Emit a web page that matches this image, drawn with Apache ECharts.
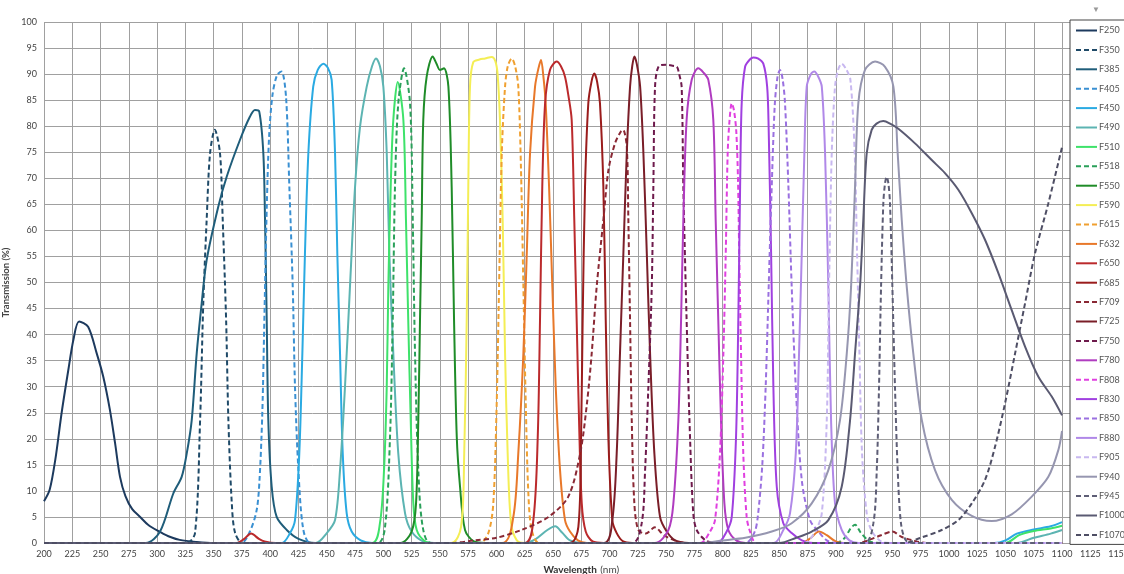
<!DOCTYPE html>
<html><head><meta charset="utf-8">
<script src="https://cdn.jsdelivr.net/npm/echarts@6/dist/echarts.min.js"></script>
<style>html,body{margin:0;padding:0;background:#fff}#c{width:1124px;height:574px}</style>
</head><body><div id="c"></div><script>
// ---- data: [wavelength nm, transmission %] ----
const F250 = [[200,8],[205,10.2],[210,16],[215.6,25],[221.5,33.2],[226,39],[231,42.5],[239,41.5],[246.6,36.4],[252.4,31.9],[258.3,25.5],[262.8,19.2],[267.2,12.7],[272,9],[278,6.5],[285,5],[292,3.5],[300,2.4],[310,1.3],[320,0.6],[335,0.2],[350,0],[1100,0]];
const F350 = [[200,0],[326,0],[333.5,1.9],[338,23.6],[340.8,46],[343.8,62],[346.8,74.8],[351,79.3],[355.6,74.8],[358,62],[361,42.8],[363,23.6],[366,7.7],[369,1.9],[376,0],[1100,0]];
const F385 = [[200,0],[290,0],[302.6,2.2],[314.3,9.5],[321.7,12.7],[326.2,17.2],[330.6,23.6],[335,36.4],[339.4,46],[343.8,54.3],[354,64.5],[361.5,70.3],[373.3,77.4],[382,81.8],[386.5,83.1],[390.3,82.8],[393.9,74.8],[395.4,62],[396.9,42.8],[398.3,23.6],[401.3,10.8],[405.7,5],[414.6,2.5],[425,0.8],[440,0],[1100,0]];
const F405 = [[200,0],[374,0],[382,2.2],[388,6.3],[390.5,12],[393,25],[395,45],[397,65],[399,78],[402,86],[406,89.8],[410,90.5],[414,85.5],[416.9,68.4],[419.9,49.2],[421.9,30],[424.9,14],[429.3,2.5],[436,0],[1100,0]];
const F450 = [[200,0],[410,0],[417.5,1.9],[421.9,4.4],[425.7,17.2],[428.4,36.4],[430.7,55.6],[433.7,74.8],[438,87.6],[442,90.8],[447,92],[451,91.2],[454.3,88.9],[457.3,74.8],[459.3,55.6],[461.7,36.4],[464.1,17.2],[467.6,5.7],[472,2.2],[480,0.5],[490,0],[1040,0],[1050,0.5],[1060,1.8],[1075,2.6],[1090,3.2],[1100,4]];
const F490 = [[200,0],[440,0],[450,1.9],[457.3,4.4],[461.7,14],[466.1,30],[470.5,49.2],[475,68.4],[479.4,79.9],[485.3,87.6],[490,91.5],[493.5,93],[497,91.5],[500,87.6],[503,74.8],[505.3,55.6],[508.8,36.4],[513.2,17.2],[519.2,5.7],[525,2.2],[535,0.3],[545,0],[625,0],[635,0.8],[645,2.5],[652,3.2],[658,2],[665,0.5],[675,0],[1060,0],[1075,1],[1090,1.8],[1100,2.5]];
const F510 = [[200,0],[490,0],[497,3.8],[500.6,14],[503,30],[504.4,49.2],[506.5,68.4],[508.8,81.2],[512.7,88.5],[517.7,81.2],[520,62],[522,42.8],[524.2,23.6],[526.5,7.6],[529.5,2.5],[537,0.3],[545,0],[1050,0],[1062,1.5],[1075,2.3],[1090,2.8],[1100,3.3]];
const F518 = [[200,0],[495,0],[501.5,3.1],[505.9,20.4],[508.3,42.8],[510.3,68.4],[513.2,84.4],[518.3,91.1],[523.6,84.4],[526,62],[528,36.4],[530.9,14],[534.8,3.1],[542,0],[900,0],[908,1],[913,2.8],[917,3.5],[922,2],[930,0.3],[940,0],[1100,0]];
const F550 = [[200,0],[515,0],[525,2.2],[528.9,7.6],[530.9,23.6],[532.4,42.8],[533.9,62],[535.3,81.2],[538.3,89.5],[543.6,93.4],[547,92],[550,90.8],[553.6,91.1],[557.5,87.6],[560.4,68.4],[562.5,42.8],[564.9,20.4],[567.8,10.8],[572.2,2.5],[580,0.3],[590,0],[1100,0]];
const F590 = [[200,0],[560,0],[568.7,3.1],[571.5,17.2],[573.7,42.8],[575.1,68.4],[576.6,87.6],[579.5,92.3],[585,92.8],[590,93],[595.8,93.3],[599,92.5],[601,90],[603.1,81.2],[605.5,62],[607.6,36.4],[609.9,17.2],[612.9,3.8],[618,0.5],[625,0],[1100,0]];
const F615 = [[200,0],[585,0],[592.8,1.9],[597.2,7.6],[600.2,26.8],[602.3,49.2],[604.7,74.8],[607.6,87.6],[610,91.5],[613.5,93],[616.5,91.5],[619.3,87.6],[621.7,71.6],[623.8,49.2],[625.9,26.8],[628.2,9.5],[631.2,2.5],[638,0],[1100,0]];
const F632 = [[200,0],[605,0],[614.9,5],[619.3,17.2],[623.8,36.4],[626.8,55.6],[629.7,74.8],[634.1,87.6],[637,91],[639.4,92.7],[641.5,89.5],[643.5,84.4],[646.5,68.4],[649.4,49.2],[652.4,30],[656.2,14],[660.6,4.4],[665,2.2],[672,0.5],[680,0],[870,0],[878,1],[885,2.2],[892,1.5],[900,0.3],[910,0],[1100,0]];
const F650 = [[200,0],[370,0],[377,0.8],[383,1.8],[390,0.8],[395,0.3],[405,0],[625,0],[632.6,4.4],[636.5,20.4],[638.5,42.8],[640.5,68.4],[643,84.4],[647.3,90.8],[653.2,92.4],[657,91.5],[660.6,89.5],[663.5,86],[666.5,81.2],[668.8,62],[670.9,42.8],[673,23.6],[675.4,7.6],[678.9,2.2],[685,0.3],[695,0],[1100,0]];
const F685 = [[200,0],[665,0],[672.4,3.1],[674.8,20.4],[676.2,42.8],[678.3,68.4],[681.2,84.4],[684,88.5],[686.5,90.1],[689,88.5],[691.5,84.4],[694.5,68.4],[696.6,42.8],[698.9,20.4],[702.4,4.4],[706.3,1.9],[712,0.3],[720,0],[1100,0]];
const F709 = [[200,0],[560,0],[580,0.5],[600,1],[622,2.5],[646,5],[663.5,8.9],[674,17.2],[680,26.8],[684.2,36.4],[688.6,49.2],[694.5,62],[699,71.6],[704.8,76.7],[710,79],[712,79.3],[715.2,76.1],[716.6,62],[718.1,42.8],[719.6,23.6],[721.9,7.6],[725.4,2.5],[732,1.8],[740,3],[748,1.5],[760,0.3],[770,0],[920,0],[932,0.8],[940,1.5],[950,2.2],[958,1.2],[968,0.5],[980,0],[1100,0]];
const F725 = [[200,0],[695,0],[702.4,4.4],[706.3,17.2],[709.2,36.4],[712.2,55.6],[715.2,74.8],[718.1,87.6],[720,91.5],[721.9,93.4],[724,92],[727,87.6],[729.9,74.8],[732.9,55.6],[735.8,36.4],[739.6,17.2],[744.6,5],[750.5,2.2],[758,0.5],[770,0],[1100,0]];
const F750 = [[200,0],[720,0],[728.4,3.8],[731.4,14],[734.3,30],[737.3,49.2],[738.7,68.4],[740.2,87.6],[743.4,91.5],[750,91.8],[756,91.6],[759.6,91.4],[761.5,90],[763.7,87.6],[765.2,68.4],[768.1,42.8],[771.1,20.4],[774,5.7],[777,2.5],[785,0.5],[795,0],[1100,0]];
const F780 = [[200,0],[740,0],[752,2.5],[756.4,7.6],[760.8,23.6],[763.2,42.8],[765.2,62],[768.1,81.2],[772.6,88.9],[778.4,91.1],[783,90.3],[787.3,88.9],[791.7,81.2],[793.8,62],[796.1,42.8],[798.5,23.6],[801.5,7.6],[805,2.5],[812,0.5],[820,0],[1100,0]];
const F808 = [[200,0],[780,0],[788.8,2.2],[793.2,4.4],[797.6,17.2],[800.6,36.4],[802.7,55.6],[804.4,74.8],[806,81],[808,84.4],[810,83],[812,79],[813.5,70],[814.6,55.6],[816.2,36.4],[818.2,17.2],[821.2,5],[824.2,2.2],[830,0],[1100,0]];
const F830 = [[200,0],[795,0],[803.5,2.2],[808,5],[811.8,20.4],[813.8,42.8],[815.4,68.4],[816.8,84.4],[819.8,91.4],[824,92.8],[827.1,93.2],[831,93],[835.9,92],[839.3,87.6],[840.6,80],[842.8,55.6],[844.8,30],[847.8,10.8],[853.6,3.8],[861,1.9],[870,0.5],[880,0],[1100,0]];
const F850 = [[200,0],[820,0],[828,2],[831,5],[835,15],[838,30],[840.5,48],[843,66],[846,84],[848.5,89.5],[850.7,90.8],[853,89],[855.1,84.4],[858.1,68.4],[861,49.2],[864.6,30],[869.9,12.1],[877.2,4.4],[884.6,2.2],[892,0.5],[900,0],[1100,0]];
const F880 = [[200,0],[845,0],[853.6,2.5],[859.5,5.7],[864.6,17.2],[867.5,36.4],[869.9,55.6],[872.2,74.8],[874.3,87.6],[878,90],[881,90.5],[884.5,89.5],[887.6,87.6],[890.5,74.8],[893.4,49.2],[895.8,23.6],[899.3,7.6],[905.2,2.5],[912,0.5],[920,0],[1100,0]];
const F905 = [[200,0],[872,0],[881.7,2.2],[887.6,5.7],[892,23.6],[894,49.2],[896.4,74.8],[899.3,87.6],[902,90.8],[905.2,92],[909,91],[912.9,88.9],[916.7,74.8],[918.8,55.6],[920.9,36.4],[923.2,17.2],[927.7,5],[932.1,2.2],[940,0.3],[950,0],[1100,0]];
const F940 = [[200,0],[780,0],[800,0.5],[820,1],[843.4,2.2],[861,3.8],[878.7,7.6],[893.4,14],[903.7,23.6],[909.7,36.4],[913.5,49.2],[917,68.4],[919.9,84.4],[925.8,90.8],[934.7,92.4],[943.5,91.4],[950.9,87.6],[954.7,74.8],[958.3,62],[962.7,49.2],[968.5,36.4],[976,23.6],[987.7,14],[1002.5,8.3],[1020.2,5.2],[1037.8,4.2],[1055.5,5.5],[1073.2,8.9],[1087.9,12.7],[1096.8,17.9],[1100,21.5]];
const F945 = [[200,0],[925,0],[933.2,3.8],[936.2,14],[938.2,30],[940,49.2],[942,65.2],[943.5,69],[945,70.3],[946.5,69],[947.9,65.2],[950,49.2],[952.3,30],[954.7,14],[957.6,3.8],[962,0.5],[970,0],[1100,0]];
const F1000 = [[200,0],[850,0],[865,1],[878.7,2.2],[893.4,4.4],[905.2,10.8],[912.6,23.6],[917,36.4],[921.4,49.2],[924.3,62],[927.3,74.8],[931.7,79.3],[936,80.5],[942,81],[948,80.5],[955.3,79.5],[970,76.7],[984.8,73.5],[996.5,71],[1008.3,67.8],[1020.2,63.3],[1031.9,58.2],[1043.7,51.8],[1055.5,44.7],[1067.3,37.7],[1079.1,31.9],[1090.9,28.1],[1100,24.5]];
const F1070 = [[200,0],[960,0],[975,1],[993.6,2.5],[1008.3,4.4],[1020.2,7.6],[1031.9,12.1],[1040.8,18.5],[1049.6,26.8],[1058.5,36.4],[1067.3,46],[1076.1,55.6],[1087.9,65.2],[1100,76]];

const filterNames = ['F250','F350','F385','F405','F450','F490','F510','F518','F550','F590','F615','F632','F650','F685','F709','F725','F750','F780','F808','F830','F850','F880','F905','F940','F945','F1000','F1070'];
const filterData = [F250,F350,F385,F405,F450,F490,F510,F518,F550,F590,F615,F632,F650,F685,F709,F725,F750,F780,F808,F830,F850,F880,F905,F940,F945,F1000,F1070];

// ---- styles ----
const lineColors = ['#1d3a5e','#1f4a68','#1f5d7a','#3a90d2','#2aaae2','#5cb4b2','#3ee26a','#2aa05a','#1f8c28','#f4ee55','#f0a030','#e8782a','#bb2a2c','#9a1c1c','#8a2834','#7a1e28','#6e1a4c','#b03cc0','#e040e0','#a040e0','#9a70e0','#b088e8','#c8b8f0','#9696b0','#5e5e76','#5a5a72','#4e4e64'];
const dashedFlags = [0,1,0,1,0,0,0,1,0,0,1,0,0,0,1,0,1,0,1,0,1,0,1,0,1,0,1];

const chart = echarts.init(document.getElementById('c'), null, {renderer:'canvas'});
const FONT = 'Lato, "Open Sans", sans-serif';
const series = filterNames.map((n,i)=>({
  name:n, type:'line', data:filterData[i], smooth:0.3, showSymbol:false, symbol:'none',
  lineStyle:{color:lineColors[i], width:2, type: dashedFlags[i] ? [5,3] : 'solid'},
  itemStyle:{color:lineColors[i]}, clip:true, z:2+i
}));
chart.setOption({
  animation:false,
  backgroundColor:'#fff',
  grid:{left:44, right:5.4, top:22, bottom:31, containLabel:false, outerBoundsMode:'none'},
  xAxis:{type:'value', min:200, max:1150, interval:25,
    name:'{b|Wavelength} {n|(nm)}', nameLocation:'middle', nameGap:21,
    nameTextStyle:{rich:{b:{fontFamily:FONT,fontSize:10,fontWeight:'bold',color:'#333'},n:{fontFamily:FONT,fontSize:10,color:'#444'}}},
    axisLine:{show:false}, axisTick:{show:false},
    axisLabel:{fontFamily:FONT, fontSize:9, color:'#444', margin:7, showMaxLabel:true, showMinLabel:true, formatter:(v)=>String(v)},
    splitLine:{show:true, lineStyle:{color:'#a0a0a0', width:1}}},
  yAxis:{type:'value', min:0, max:100, interval:5,
    name:'Transmission (%)', nameLocation:'middle', nameGap:30, nameRotate:90,
    nameTextStyle:{fontFamily:FONT, fontSize:9.5, fontWeight:'bold', color:'#444'},
    axisLine:{show:false}, axisTick:{show:false},
    axisLabel:{fontFamily:FONT, fontSize:9, color:'#444', margin:7, formatter:(v)=>String(v)},
    splitLine:{show:true, lineStyle:{color:'#a0a0a0', width:1}}},
  legend:{orient:'vertical', left:1070, top:20, itemWidth:21, itemHeight:10, itemGap:10.4,
    padding:[6,40,5,5], backgroundColor:'#fff', borderColor:'#444', borderWidth:1,
    itemStyle:{opacity:0, borderWidth:0},
    textStyle:{fontFamily:FONT, fontSize:9, color:'#555', padding:[0,0,0,-3]},
    data:filterNames},
  graphic:[{type:'text', left:1092, top:6, style:{text:'▼', fontSize:8, fill:'#999'}}],
  series:series
});
</script></body></html>
